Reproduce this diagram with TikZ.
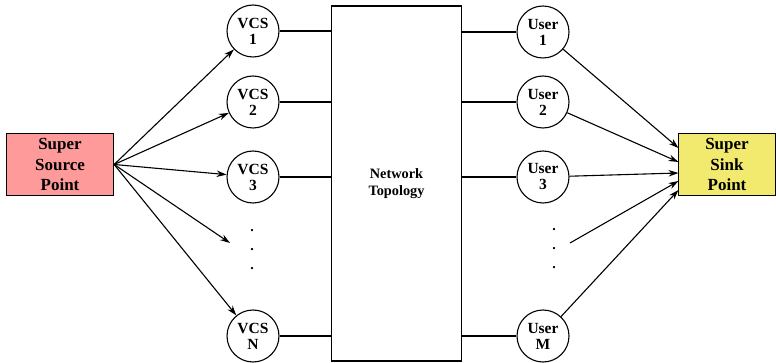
\documentclass[tikz,border=0pt]{standalone}
\usepackage{fontspec}
\setmainfont{Liberation Serif}
\usetikzlibrary{arrows.meta}
\definecolor{srcpink}{HTML}{FF9A9A}
\definecolor{sinkyellow}{HTML}{F2EA6E}
\begin{document}
\begin{tikzpicture}[x=1pt,y=-1pt,
  every node/.style={font=\bfseries},
  endbox/.style={draw,line width=1.3pt,minimum width=107pt,minimum height=62pt,inner sep=0pt,align=center,font=\fontsize{17}{20.5}\selectfont\bfseries},
  circ/.style={draw,circle,line width=1.1pt,minimum size=52pt,inner sep=0pt,align=center,font=\fontsize{15.5}{16}\selectfont\bfseries},
  link/.style={line width=1.1pt},
  arr/.style={line width=1.1pt,-{Stealth[length=10pt,width=6.5pt]}},
  dotstyle/.style={font=\fontsize{14}{19}\selectfont\bfseries,align=center,inner sep=0pt}
]
\useasboundingbox (0,0) rectangle (776,363);
% end boxes
\node[endbox,fill=srcpink] (src) at (60,164.5) {Super\\Source\\Point};
\node[endbox,fill=sinkyellow,minimum width=97pt] (snk) at (727,164.5) {Super\\Sink\\Point};
% network
\node[draw,line width=1.1pt,minimum width=130pt,minimum height=355pt,inner sep=0pt,align=center,font=\fontsize{14.3}{17.5}\selectfont\bfseries] (net) at (396.5,183.5) {Network\\Topology};
% VCS circles
\node[circ] (v1) at (253,31) {VCS\\1};
\node[circ] (v2) at (253,102) {VCS\\2};
\node[circ] (v3) at (253,177) {VCS\\3};
\node[circ] (vn) at (253,336) {VCS\\N};
\node[dotstyle] (vd) at (252,250) {.\\.\\.};
% User circles
\node[circ] (u1) at (543,32) {User\\1};
\node[circ] (u2) at (543,102) {User\\2};
\node[circ] (u3) at (543,177) {User\\3};
\node[circ] (um) at (543,336) {User\\M};
\node[dotstyle] (ud) at (554,249) {.\\.\\.};
% links to network
\draw[link] (v1.east) -- (v1.east -| net.west);
\draw[link] (v2.east) -- (v2.east -| net.west);
\draw[link] (v3.east) -- (v3.east -| net.west);
\draw[link] (vn.east) -- (vn.east -| net.west);
\draw[link] (u1.west) -- (u1.west -| net.east);
\draw[link] (u2.west) -- (u2.west -| net.east);
\draw[link] (u3.west) -- (u3.west -| net.east);
\draw[link] (um.west) -- (um.west -| net.east);
% source arrows
\coordinate (vdin) at (230,243);
\draw[arr] (src.east) -- (v1);
\draw[arr] (src.east) -- (v2);
\draw[arr] (src.east) -- (v3);
\draw[arr] (src.east) -- (vdin);
\draw[arr] (src.east) -- (vn);
% sink arrows
\coordinate (udout) at (570,243);
\coordinate (s1) at (678.5,148);
\coordinate (s2) at (678.5,162);
\coordinate (s3) at (678.5,173);
\coordinate (s4) at (678.5,181);
\coordinate (s5) at (678.5,190);
\draw[arr] (u1) -- (s1);
\draw[arr] (u2) -- (s2);
\draw[arr] (u3) -- (s3);
\draw[arr] (udout) -- (s4);
\draw[arr] (um) -- (s5);
\end{tikzpicture}
\end{document}
